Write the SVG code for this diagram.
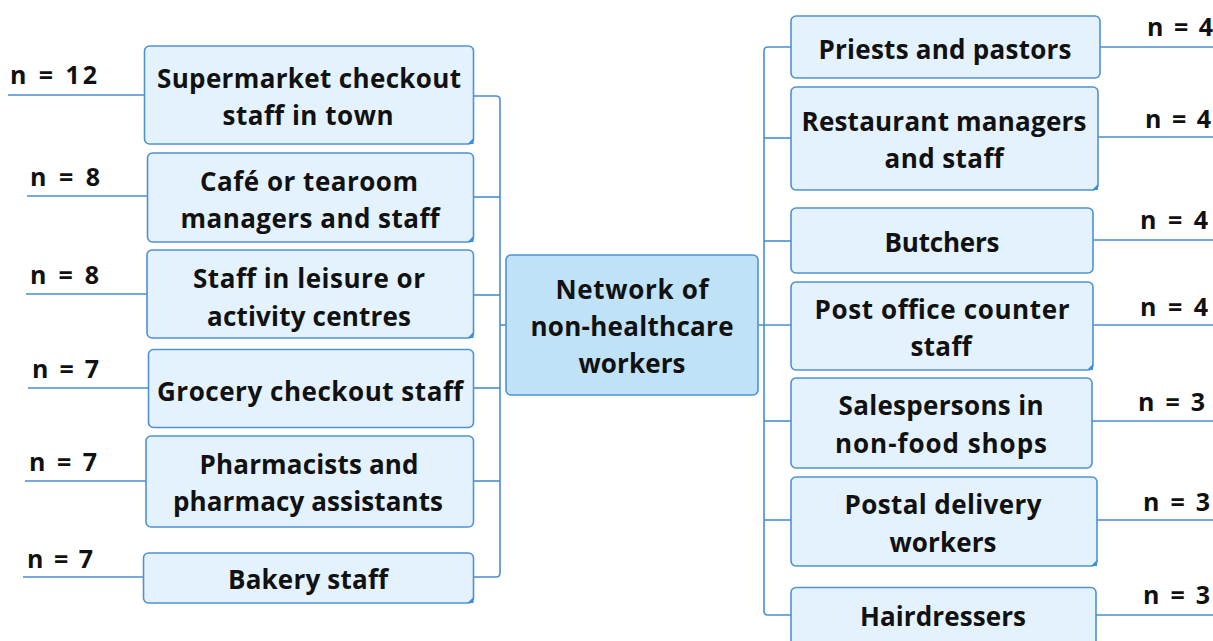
<svg xmlns="http://www.w3.org/2000/svg" width="1213" height="641" viewBox="0 0 1213 641">
  <style>
    .box { fill: #e4f2fd; stroke: #4f92d2; stroke-width: 1.6; }
    .root { fill: #bfe2f7; stroke: #4f92d2; stroke-width: 1.6; }
    .t { font-family: "Open Sans", "Noto Sans", "DejaVu Sans", sans-serif; font-weight: 700; font-size: 26px; fill: #111; text-anchor: middle; }
    .n { font-family: "Open Sans", "Noto Sans", "DejaVu Sans", sans-serif; font-weight: 700; font-size: 25px; fill: #111; }
    .ln { fill: none; stroke: #4a8ed0; stroke-width: 1.6; }
    .fold { fill: #3b8de0; }
  </style>

  <!-- branch lines -->
  <g id="connectors">
    <!-- left trunk -->
    <path class="ln" d="M473,96 H496 Q500,96 500,100 V573 Q500,577 496,577 H473"/>
    <path class="ln" d="M473,197 H500"/>
    <path class="ln" d="M473,295 H500"/>
    <path class="ln" d="M473,388 H500"/>
    <path class="ln" d="M473,481 H500"/>
    <path class="ln" d="M500,325 H506"/>
    <!-- right trunk -->
    <path class="ln" d="M791,47 H768 Q764,47 764,51 V611 Q764,615 768,615 H791"/>
    <path class="ln" d="M764,138 H791"/>
    <path class="ln" d="M764,241 H791"/>
    <path class="ln" d="M758,325 H791"/>
    <path class="ln" d="M764,421 H791"/>
    <path class="ln" d="M764,520 H791"/>
    <!-- count underlines, left -->
    <path class="ln" d="M8,95 H144"/>
    <path class="ln" d="M27,196 H147"/>
    <path class="ln" d="M26,294 H147"/>
    <path class="ln" d="M28,388 H148"/>
    <path class="ln" d="M25,481 H146"/>
    <path class="ln" d="M23,577 H143"/>
    <!-- count underlines, right -->
    <path class="ln" d="M1100,47 H1213"/>
    <path class="ln" d="M1098,137 H1213"/>
    <path class="ln" d="M1093,240 H1213"/>
    <path class="ln" d="M1093,325 H1213"/>
    <path class="ln" d="M1092,421 H1213"/>
    <path class="ln" d="M1097,520 H1213"/>
    <path class="ln" d="M1096,615 H1213"/>
  </g>

  <!-- centre topic -->
  <g id="root">
    <rect class="root" x="506" y="255" width="252" height="140" rx="5"/>
    <text class="t" x="632" y="299" textLength="153" lengthAdjust="spacing">Network of</text>
    <text class="t" x="632" y="336" textLength="203" lengthAdjust="spacing">non-healthcare</text>
    <text class="t" x="632" y="373" textLength="107" lengthAdjust="spacing">workers</text>
  </g>

  <!-- left topics -->
  <g id="supermarket">
    <rect class="box" x="144.5" y="46" width="329" height="98" rx="5"/>
    <path class="fold" d="M473.5,138 V144 H467.5 Z"/>
    <text class="t" x="309" y="88" textLength="304" lengthAdjust="spacing">Supermarket checkout</text>
    <text class="t" x="308" y="125" textLength="171" lengthAdjust="spacing">staff in town</text>
    <text class="n" x="10" y="84" textLength="87" lengthAdjust="spacing">n = 12</text>
  </g>
  <g id="cafe">
    <rect class="box" x="147.5" y="153" width="326" height="89" rx="5"/>
    <path class="fold" d="M473.5,236 V242 H467.5 Z"/>
    <text class="t" x="309" y="191" textLength="218" lengthAdjust="spacing">Café or tearoom</text>
    <text class="t" x="310" y="228" textLength="259" lengthAdjust="spacing">managers and staff</text>
    <text class="n" x="30" y="186" textLength="70" lengthAdjust="spacing">n = 8</text>
  </g>
  <g id="leisure">
    <rect class="box" x="147" y="250" width="326.5" height="88" rx="5"/>
    <path class="fold" d="M473.5,332 V338 H467.5 Z"/>
    <text class="t" x="309" y="288" textLength="232" lengthAdjust="spacing">Staff in leisure or</text>
    <text class="t" x="309" y="326" textLength="204" lengthAdjust="spacing">activity centres</text>
    <text class="n" x="30" y="284" textLength="69" lengthAdjust="spacing">n = 8</text>
  </g>
  <g id="grocery">
    <rect class="box" x="148.5" y="349.5" width="325" height="78" rx="5"/>
    <text class="t" x="310" y="401" textLength="306" lengthAdjust="spacing">Grocery checkout staff</text>
    <text class="n" x="32" y="378" textLength="67" lengthAdjust="spacing">n = 7</text>
  </g>
  <g id="pharmacy">
    <rect class="box" x="146" y="436" width="327.5" height="91" rx="5"/>
    <text class="t" x="309" y="474" textLength="219" lengthAdjust="spacing">Pharmacists and</text>
    <text class="t" x="308" y="511" textLength="270" lengthAdjust="spacing">pharmacy assistants</text>
    <text class="n" x="29" y="471" textLength="68" lengthAdjust="spacing">n = 7</text>
  </g>
  <g id="bakery">
    <rect class="box" x="143.5" y="553" width="330" height="50" rx="5"/>
    <path class="fold" d="M473.5,597 V603 H467.5 Z"/>
    <text class="t" x="308" y="589" textLength="160" lengthAdjust="spacing">Bakery staff</text>
    <text class="n" x="27" y="568" textLength="66" lengthAdjust="spacing">n = 7</text>
  </g>

  <!-- right topics -->
  <g id="priests">
    <rect class="box" x="791" y="16" width="309" height="62" rx="5"/>
    <text class="t" x="945" y="59" textLength="253" lengthAdjust="spacing">Priests and pastors</text>
    <text class="n" x="1147" y="36" textLength="66" lengthAdjust="spacing">n = 4</text>
  </g>
  <g id="restaurant">
    <rect class="box" x="791" y="87" width="307" height="103" rx="5"/>
    <path class="fold" d="M1098,184 V190 H1092 Z"/>
    <text class="t" x="944" y="131" textLength="285" lengthAdjust="spacing">Restaurant managers</text>
    <text class="t" x="944" y="168" textLength="119" lengthAdjust="spacing">and staff</text>
    <text class="n" x="1145" y="128" textLength="66" lengthAdjust="spacing">n = 4</text>
  </g>
  <g id="butchers">
    <rect class="box" x="791" y="208" width="302" height="65" rx="5"/>
    <text class="t" x="942" y="252" textLength="115" lengthAdjust="spacing">Butchers</text>
    <text class="n" x="1140" y="229" textLength="68" lengthAdjust="spacing">n = 4</text>
  </g>
  <g id="postoffice">
    <rect class="box" x="791" y="282" width="302" height="88" rx="5"/>
    <path class="fold" d="M1093,364 V370 H1087 Z"/>
    <text class="t" x="942" y="319" textLength="255" lengthAdjust="spacing">Post office counter</text>
    <text class="t" x="941" y="356" textLength="61" lengthAdjust="spacing">staff</text>
    <text class="n" x="1140" y="316" textLength="68" lengthAdjust="spacing">n = 4</text>
  </g>
  <g id="salespersons">
    <rect class="box" x="791" y="378" width="301" height="90" rx="5"/>
    <text class="t" x="941" y="415" textLength="205" lengthAdjust="spacing">Salespersons in</text>
    <text class="t" x="941" y="453" textLength="212" lengthAdjust="spacing">non-food shops</text>
    <text class="n" x="1138" y="411" textLength="67" lengthAdjust="spacing">n = 3</text>
  </g>
  <g id="postal">
    <rect class="box" x="791" y="477" width="306" height="89" rx="5"/>
    <path class="fold" d="M1097,560 V566 H1091 Z"/>
    <text class="t" x="943" y="514" textLength="197" lengthAdjust="spacing">Postal delivery</text>
    <text class="t" x="943" y="552" textLength="107" lengthAdjust="spacing">workers</text>
    <text class="n" x="1143" y="511" textLength="67" lengthAdjust="spacing">n = 3</text>
  </g>
  <g id="hairdressers">
    <rect class="box" x="791" y="587.5" width="305" height="70" rx="5"/>
    <text class="t" x="943" y="626" textLength="166" lengthAdjust="spacing">Hairdressers</text>
    <text class="n" x="1143" y="604" textLength="67" lengthAdjust="spacing">n = 3</text>
  </g>
</svg>
